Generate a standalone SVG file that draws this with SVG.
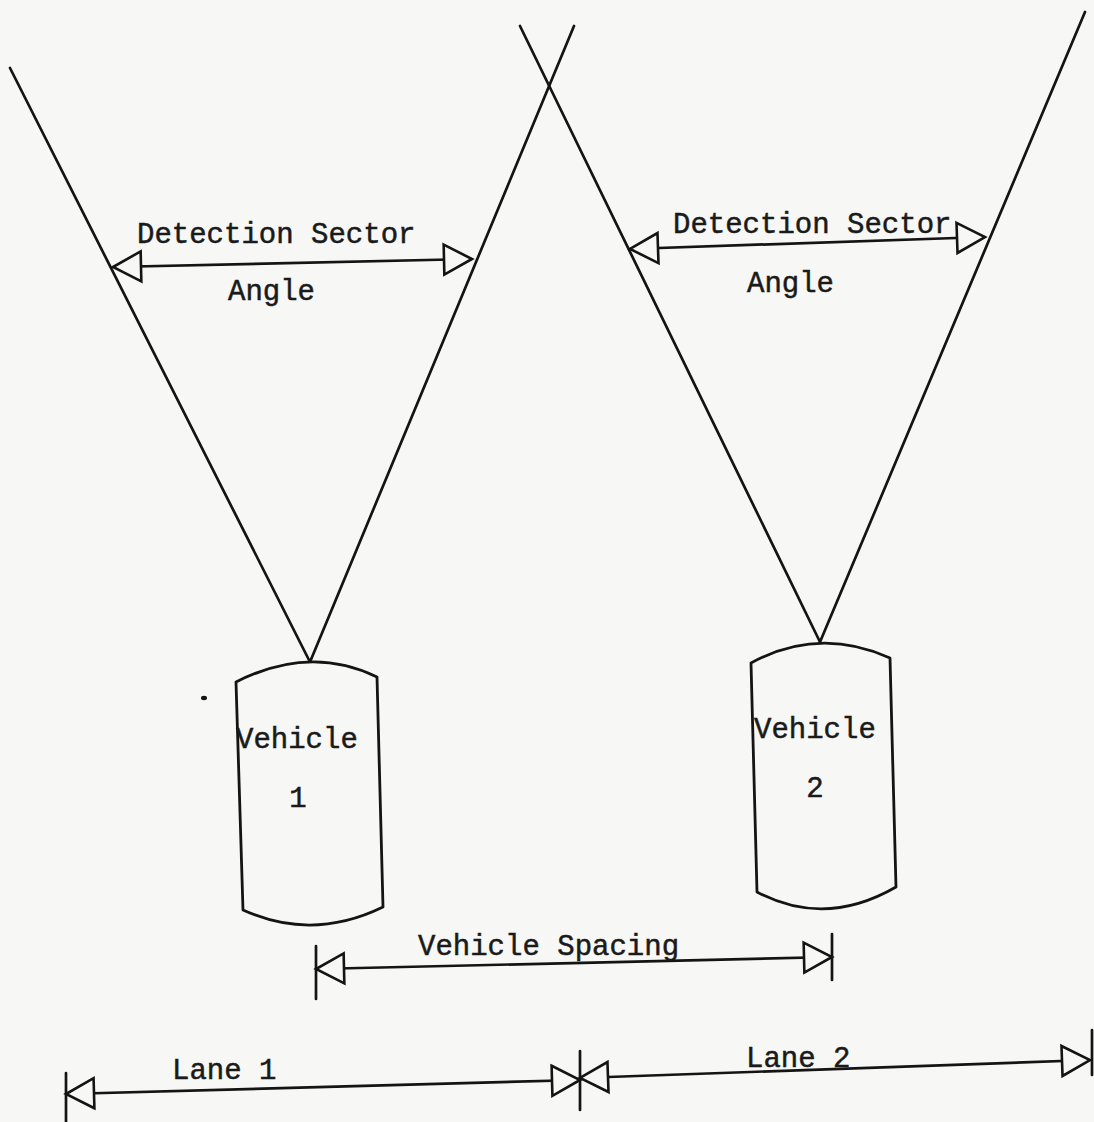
<svg xmlns="http://www.w3.org/2000/svg" width="1094" height="1122" viewBox="0 0 1094 1122">
  <style>
    .ln { stroke: #141414; stroke-width: 2.7; fill: none; stroke-linecap: round; }
    .dim { stroke: #141414; stroke-width: 2.7; fill: none; marker-start: url(#tri); marker-end: url(#tri); }
    .veh { stroke: #141414; stroke-width: 2.8; fill: #f7f7f5; stroke-linejoin: round; }
    .lbl { font-family: "Liberation Mono", "Courier New", monospace; font-size: 29px; fill: #1a1a1a; stroke: #1a1a1a; stroke-width: 0.5; }
  </style>
  <defs>
    <!-- open triangular arrowhead for dimension lines -->
    <marker id="tri" viewBox="0 0 30 32" refX="29" refY="16" markerWidth="30" markerHeight="32" markerUnits="userSpaceOnUse" orient="auto-start-reverse" overflow="visible">
      <path d="M1,1 L29,16 L1,31 Z" fill="#f7f7f5" stroke="#141414" stroke-width="2.6" stroke-linejoin="miter"/>
    </marker>
  </defs>

  <rect width="1094" height="1122" fill="#f7f7f5"/>

  <!-- detection sector boundaries -->
  <g id="sector-1">
    <line class="ln" x1="10" y1="68" x2="310" y2="662"/>
    <line class="ln" x1="574" y1="26" x2="310" y2="662"/>
  </g>
  <g id="sector-2">
    <line class="ln" x1="520" y1="26" x2="820" y2="642"/>
    <line class="ln" x1="1085" y1="12" x2="820" y2="642"/>
  </g>

  <!-- vehicles -->
  <g id="vehicle-1">
    <path class="veh" d="M236,682 Q310,644.5 377,677 L383,907 Q312,941.5 243,910 Z"/>
    <text class="lbl" x="236" y="748">Vehicle</text>
    <text class="lbl" x="298" y="807" text-anchor="middle">1</text>
  </g>
  <g id="vehicle-2">
    <path class="veh" d="M751,663 Q819,626 890,658 L896,887 Q825,928 757,892 Z"/>
    <text class="lbl" x="754" y="738">Vehicle</text>
    <text class="lbl" x="815" y="797" text-anchor="middle">2</text>
  </g>

  <ellipse cx="204" cy="698" rx="3" ry="2.2" fill="#141414"/>

  <!-- dimension lines and labels -->
  <g id="connectors">
    <line class="dim" x1="113" y1="267" x2="472" y2="259"/>
    <line class="dim" x1="630" y1="249" x2="985" y2="237"/>
    <line class="dim" x1="316" y1="969" x2="832" y2="957"/>
    <line class="dim" x1="66" y1="1094" x2="580" y2="1080"/>
    <line class="dim" x1="580" y1="1078" x2="1090" y2="1060"/>
    <!-- extension ticks -->
    <line class="ln" x1="316" y1="946" x2="316" y2="999"/>
    <line class="ln" x1="832" y1="934" x2="832" y2="980"/>
    <line class="ln" x1="66" y1="1073" x2="66" y2="1122"/>
    <line class="ln" x1="580" y1="1051" x2="580" y2="1110"/>
    <line class="ln" x1="1092" y1="1030" x2="1092" y2="1075"/>
  </g>

  <g id="labels">
    <text class="lbl" x="137" y="243">Detection Sector</text>
    <text class="lbl" x="228" y="300">Angle</text>
    <text class="lbl" x="673" y="233">Detection Sector</text>
    <text class="lbl" x="747" y="292">Angle</text>
    <text class="lbl" x="418" y="955">Vehicle Spacing</text>
    <text class="lbl" x="172" y="1079">Lane 1</text>
    <text class="lbl" x="746" y="1067">Lane 2</text>
  </g>
</svg>
